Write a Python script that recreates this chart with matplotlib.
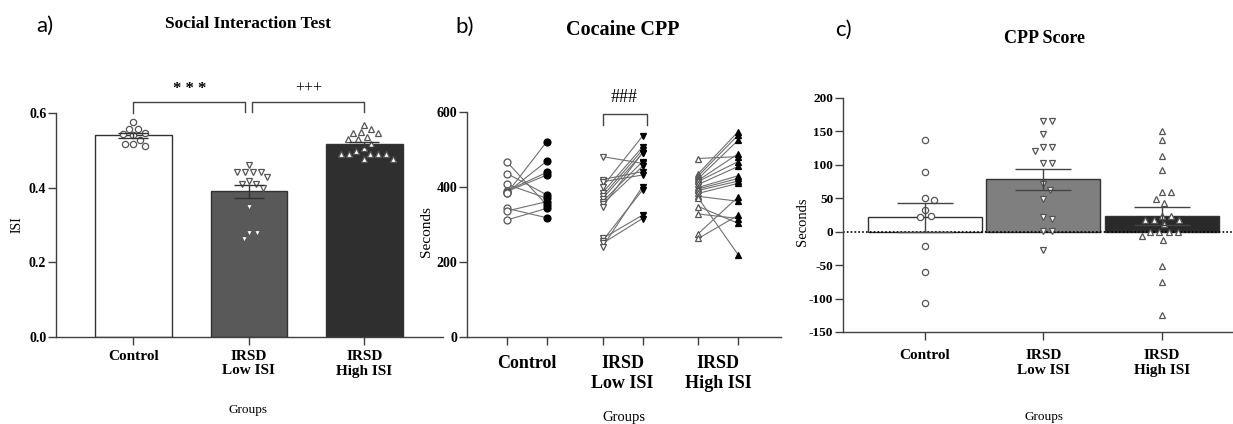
import matplotlib.pyplot as plt
import numpy as np

plt.rcParams['font.family'] = ['Liberation Serif', 'DejaVu Serif']
plt.rcParams['axes.unicode_minus'] = False

groups = ['Control', 'IRSD\nLow ISI', 'IRSD\nHigh ISI']

# a) Social Interaction Test (ISI per animal)
isi_control = [0.576, 0.558, 0.558, 0.547, 0.545, 0.540, 0.528, 0.518, 0.518, 0.512]
isi_low = [0.460, 0.441, 0.441, 0.441, 0.441, 0.429, 0.418, 0.409, 0.409,
           0.400, 0.349, 0.279, 0.279, 0.263]
isi_high = [0.569, 0.556, 0.550, 0.547, 0.547, 0.536, 0.530, 0.530, 0.517,
            0.505, 0.498, 0.491, 0.489, 0.489, 0.489, 0.489, 0.478, 0.478]

# b) Cocaine CPP, seconds in drug paired side (pre / post)
pre_control = [467, 436, 407, 390, 388, 385, 383, 343, 336, 312]
post_control = [352, 379, 370, 439, 432, 469, 521, 318, 361, 343]
pre_low = [481, 420, 414, 401, 385, 376, 369, 361, 355, 348, 263, 257, 250, 241]
post_low = [463, 441, 432, 536, 507, 499, 490, 468, 455, 492, 325, 392, 316, 401]
pre_high = [476, 436, 430, 423, 418, 415, 407, 399, 395, 391, 383, 375,
            370, 348, 328, 276, 263]
post_high = [481, 548, 539, 525, 489, 468, 455, 430, 423, 416, 410, 362,
             219, 303, 316, 374, 325]

# c) CPP score (seconds)
score_control = [137, 90, 50, 48, 33, 23, 22, -22, -60, -107]
score_low = [165, 165, 146, 126, 126, 121, 103, 103, 72, 63, 49, 22, 19, 1, 1, -27]
score_high = [151, 137, 113, 93, 59, 59, 49, 43, 24, 24, 18, 18, 18, 11,
              0, 0, 0, 0, -7, -12, -51, -75, -125]

W, H = 1233, 424
fig = plt.figure(figsize=(W / 100, H / 100), dpi=100)


def box(l, t, r, b):
    return [l / W, 1 - b / H, (r - l) / W, (b - t) / H]


def style(ax):
    for s in ['top', 'right']:
        ax.spines[s].set_visible(False)
    for s in ['left', 'bottom']:
        ax.spines[s].set_color('#404040')
        ax.spines[s].set_linewidth(1.0)
    ax.tick_params(direction='out', length=6, width=1, color='#404040')


def sem(v):
    v = np.asarray(v, float)
    return v.std(ddof=1) / np.sqrt(len(v))


def swarm(ax, xc, vals, d):
    # spread points sideways so they don't overlap (d = spacing in pixels)
    vals = np.asarray(vals, float)
    pts = ax.transData.transform(np.column_stack([np.full(len(vals), xc), vals]))
    placed = []
    offs = np.zeros(len(vals))
    for i in np.argsort(-vals, kind='stable'):
        py = pts[i, 1]
        cands = [0.0]
        for qx, qy in placed:
            dy = py - qy
            if abs(dy) < d:
                dx = np.sqrt(d * d - dy * dy)
                cands += [qx + dx, qx - dx]
        cands.sort(key=abs)
        for c in cands:
            if all((c - qx) ** 2 + (py - qy) ** 2 >= d * d - 1e-6 for qx, qy in placed):
                break
        placed.append((c, py))
        offs[i] = c
    xy = np.column_stack([pts[:, 0] + offs, pts[:, 1]])
    return ax.transData.inverted().transform(xy)[:, 0]


# ---------------- a) ----------------
axa = fig.add_axes(box(56, 113, 443, 337))
style(axa)
axa.set_xlim(-0.67, 2.68)
axa.set_ylim(0, 0.6)
data_a = [isi_control, isi_low, isi_high]
cols_a = ['white', '#595959', '#2f2f2f']
marks = ['o', 'v', '^']
for i, v in enumerate(data_a):
    axa.bar(i, np.mean(v), width=0.66, color=cols_a[i], edgecolor='#333333', lw=1, zorder=1)
for i, v in enumerate(data_a):
    xs = swarm(axa, i, v, 8)
    axa.plot(xs, v, ls='none', marker=marks[i], ms=4.5, mfc='white', mec='#555555',
             mew=0.9, zorder=3, clip_on=False)
    axa.errorbar(i, np.mean(v), yerr=sem(v), color='#333333', lw=1, capsize=11,
                 capthick=1, zorder=4)
axa.set_yticks([0, 0.2, 0.4, 0.6])
axa.set_yticklabels(['0.0', '0.2', '0.4', '0.6'], fontsize=10, fontweight='bold')
axa.set_xticks(range(3))
axa.set_xticklabels(groups, fontsize=11, fontweight='bold')
axa.tick_params(axis='y', pad=1)
axa.tick_params(axis='x', pad=3)
axa.set_ylabel('ISI', fontsize=10)
axa.yaxis.set_label_coords(-0.085, 0.5)
axa.set_xlabel('Groups', fontsize=9.5)
axa.xaxis.set_label_coords(0.495, -0.326)
axa.xaxis.label.set_va('center')
kw = dict(color='#444444', lw=1, clip_on=False)
axa.plot([0, 0, 0.97, 0.97], [0.6, 0.629, 0.629, 0.603], **kw)
axa.plot([1.03, 1.03, 2.0, 2.0], [0.603, 0.629, 0.629, 0.603], **kw)
axa.text(0.485, 0.664, '* * *', ha='center', va='center', fontsize=12, fontweight='bold')
axa.text(1.515, 0.664, '+++', ha='center', va='center', fontsize=11.5)

# ---------------- b) ----------------
axb = fig.add_axes(box(467, 112, 781, 337))
style(axb)
axb.set_xlim(-1.0, 6.87)
axb.set_ylim(0, 600)
gpos = [0, 2.4, 4.8]
pairs = [(pre_control, post_control), (pre_low, post_low), (pre_high, post_high)]
for i, (pre, post) in enumerate(pairs):
    x0, x1 = gpos[i], gpos[i] + 1
    for a, b in zip(pre, post):
        axb.plot([x0, x1], [a, b], color='#707070', lw=0.8, zorder=2)
    axb.plot([x0] * len(pre), pre, ls='none', marker=marks[i], ms=5, mfc='white',
             mec='#555555', mew=0.9, zorder=3)
    axb.plot([x1] * len(post), post, ls='none', marker=marks[i], ms=5, mfc='black',
             mec='black', mew=0.9, zorder=3)
axb.set_yticks([0, 200, 400, 600])
axb.set_yticklabels(['0', '200', '400', '600'], fontsize=10, fontweight='bold')
axb.tick_params(axis='y', pad=1)
axb.set_xticks([p + k for p in gpos for k in (0, 1)])
axb.set_xticklabels([])
axb.set_xticks([p + 0.5 for p in gpos], minor=True)
axb.set_xticklabels(groups, minor=True, fontsize=13, fontweight='bold')
axb.tick_params(axis='x', which='minor', length=0, pad=13)
axb.set_ylabel('Seconds', fontsize=11)
axb.yaxis.set_label_coords(-0.108, 0.47)
axb.set_xlabel('Groups', fontsize=10.5)
axb.xaxis.set_label_coords(0.5, -0.356)
axb.xaxis.label.set_va('center')
axb.plot([2.42, 2.42, 3.5, 3.5], [565, 595, 595, 565], color='#444444', lw=1, clip_on=False)
axb.text(2.95, 640, '###', ha='center', va='center', fontsize=13)

# ---------------- c) ----------------
axc = fig.add_axes(box(843, 98, 1233, 332))
style(axc)
axc.set_xlim(-0.69, 2.6)
axc.set_ylim(-150, 200)
data_c = [score_control, score_low, score_high]
cols_c = ['white', '#7f7f7f', '#2a2a2a']
for i, v in enumerate(data_c):
    axc.bar(i, np.mean(v), width=0.96, color=cols_c[i], edgecolor='#333333', lw=1, zorder=1)
axc.axhline(0, color='black', ls=(0, (1, 1.3)), lw=1.2, zorder=2)
for i, v in enumerate(data_c):
    xs = swarm(axc, i, v, 9)
    axc.plot(xs, v, ls='none', marker=marks[i], ms=4.5, mfc='white', mec='#555555',
             mew=0.9, zorder=3)
    axc.errorbar(i, np.mean(v), yerr=sem(v), color='#444444', lw=1, capsize=20,
                 capthick=1, zorder=4)
axc.set_yticks(range(-150, 201, 50))
axc.set_yticklabels([str(t) for t in range(-150, 201, 50)], fontsize=9.5, fontweight='bold')
axc.tick_params(axis='y', pad=1)
axc.set_xticks(range(3))
axc.set_xticklabels(groups, fontsize=11, fontweight='bold')
axc.tick_params(axis='x', pad=6)
axc.set_ylabel('Seconds', fontsize=10.5)
axc.yaxis.set_label_coords(-0.087, 0.47)
axc.set_xlabel('Groups', fontsize=9.5)
axc.xaxis.set_label_coords(0.515, -0.363)
axc.xaxis.label.set_va('center')

# panel letters and titles
for x, y, s in [(36, 32, 'a)'), (455, 33, 'b)'), (835, 36, 'c)')]:
    fig.text(x / W, 1 - y / H, s, ha='left', va='baseline', fontsize=16,
             family=['Lato', 'DejaVu Sans'])
for x, y, s, fs in [(248, 28, 'Social Interaction Test', 12.5),
                    (623, 35, 'Cocaine CPP', 14.5),
                    (1044, 43, 'CPP Score', 13)]:
    fig.text(x / W, 1 - y / H, s, ha='center', va='baseline', fontsize=fs, fontweight='bold')

fig.savefig('out.png', dpi=100)
